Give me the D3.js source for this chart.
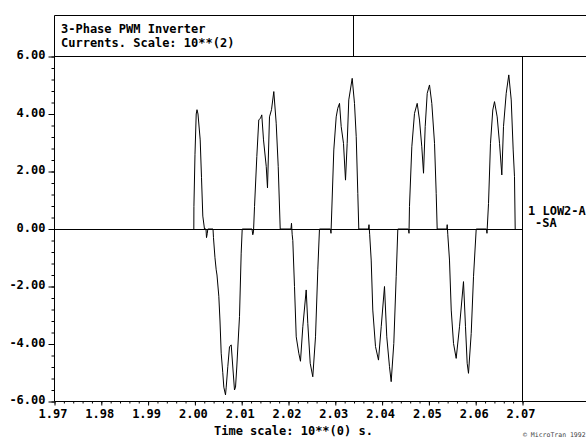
<!DOCTYPE html>
<html>
<head>
<meta charset="utf-8">
<script src="https://cdn.jsdelivr.net/npm/d3@7/dist/d3.min.js"></script>
<style>
  body { margin: 0; background: #fff; }
  svg text { font-family: "DejaVu Sans Mono", monospace; font-size: 12px; font-weight: bold; fill: #000; }
</style>
</head>
<body>
<div id="chart"></div>
<script>
// Phase current (time in s, current in units of 10**2 A)
var time = [
  1.99977, 1.99979, 2.00002, 2.00028, 2.00045, 2.00066, 2.00113, 2.00141, 2.00169, 2.00205,
  2.00237, 2.00248, 2.00265, 2.00276, 2.00387,
  2.00397, 2.00429, 2.00455, 2.00472, 2.00511, 2.00536, 2.00562, 2.00596, 2.00618, 2.00654,
  2.00669, 2.00703, 2.00739, 2.00776, 2.00810, 2.00846, 2.00868, 2.00895, 2.00921, 2.00953,
  2.00989, 2.01011,
  2.01220, 2.01237, 2.01252, 2.01274, 2.01323, 2.01365, 2.01402, 2.01429, 2.01466, 2.01524,
  2.01551, 2.01594, 2.01637, 2.01686, 2.01737, 2.01780, 2.01823,
  2.02053, 2.02064, 2.02079, 2.02092, 2.02128, 2.02165, 2.02220, 2.02256, 2.02306, 2.02378,
  2.02412, 2.02464, 2.02519, 2.02577, 2.02626, 2.02662,
  2.02897, 2.02908, 2.02925, 2.02968, 2.03019, 2.03053, 2.03090, 2.03126, 2.03175, 2.03218,
  2.03254, 2.03288, 2.03361, 2.03410, 2.03447, 2.03481, 2.03502,
  2.03709, 2.03720, 2.03735, 2.03767, 2.03801, 2.03859, 2.03923, 2.03981, 2.04051, 2.04100,
  2.04158, 2.04194, 2.04250, 2.04301, 2.04336,
  2.04564, 2.04575, 2.04585, 2.04635, 2.04692, 2.04750, 2.04799, 2.04848, 2.04885, 2.04921,
  2.04964, 2.05013, 2.05062, 2.05120, 2.05156, 2.05177,
  2.05383, 2.05391, 2.05404, 2.05440, 2.05477, 2.05526, 2.05583, 2.05654, 2.05739, 2.05782,
  2.05818, 2.05846, 2.05904, 2.05953, 2.06011,
  2.06231, 2.06241, 2.06274, 2.06316, 2.06365, 2.06402, 2.06459, 2.06509, 2.06558, 2.06594,
  2.06652, 2.06707, 2.06759, 2.06801, 2.06829, 2.06844
];
var current = [
  0, 0.78, 2.6, 4.0, 4.15, 4.0, 3.1, 1.8, 0.45, 0,
  0, -0.3, -0.15, 0, 0,
  -0.3, -1.0, -1.42, -1.6, -2.34, -3.2, -4.32, -5.0, -5.5, -5.77,
  -5.5, -4.79, -4.1, -4.03, -4.8, -5.6, -5.5, -4.8, -4.0, -3.04,
  -0.84, 0,
  0, -0.2, -0.1, 0.78, 2.52, 3.8, 3.85, 3.97, 3.1, 2.18,
  1.43, 3.9, 4.15, 4.78, 3.68, 2.18, 0,
  0, 0.2, -0.2, -0.4, -2.0, -3.75, -4.32, -4.6, -3.4, -2.12,
  -3.28, -4.67, -5.14, -3.75, -1.42, 0,
  0, -0.15, 0.66, 2.75, 3.9, 4.2, 4.37, 3.56, 2.98, 1.7,
  2.98, 4.49, 5.24, 4.37, 3.21, 1.24, 0,
  0, 0.15, -0.2, -1.08, -2.82, -4.09, -4.56, -3.4, -2.0, -3.75,
  -4.79, -5.31, -3.98, -1.66, 0,
  0, -0.15, 0.78, 2.86, 4.02, 4.37, 3.79, 2.86, 1.94, 3.56,
  4.72, 5.01, 4.37, 2.98, 1.24, 0,
  0, 0.15, -0.2, -1.08, -2.82, -3.98, -4.5, -3.4, -1.83, -3.4,
  -4.67, -5.02, -3.63, -1.66, 0,
  0, -0.15, 0.89, 2.98, 4.14, 4.43, 3.9, 2.98, 1.88, 3.56,
  4.72, 5.36, 4.49, 2.75, 1.82, 0
];

var xTicks = [1.97, 1.98, 1.99, 2.00, 2.01, 2.02, 2.03, 2.04, 2.05, 2.06, 2.07];
var yTicks = [-6, -4, -2, 0, 2, 4, 6];
var titleLines = ["3-Phase PWM Inverter", "Currents. Scale: 10**(2)"];
var seriesLabel = ["1 LOW2-A", "-SA"];
var xTitle = "Time scale: 10**(0) s.";

var W = 586, H = 439;
// plot box (don't call it "top": window.top is read-only)
var pLeft = 54.5, pRight = 522.5, pTop = 56.5, pBottom = 401.5;

var svg = d3.select('#chart').append('svg')
  .attr('width', W)
  .attr('height', H);

var x = d3.scaleLinear().domain([1.97, 2.07]).range([pLeft, pRight]);
var y = d3.scaleLinear().domain([-6, 6]).range([pBottom, pTop]);

// minor ticks first
var xMinor = d3.range(0, 51).map(function(i) { return 1.97 + i * 0.002; });
var yMinor = d3.range(0, 31).map(function(i) { return -6 + i * 0.4; });

var gxm = svg.append('g').attr('transform', 'translate(0,' + pBottom + ')')
  .call(d3.axisBottom(x).tickValues(xMinor).tickSize(2).tickFormat(''));
var gym = svg.append('g').attr('transform', 'translate(' + pLeft + ',0)')
  .call(d3.axisLeft(y).tickValues(yMinor).tickSize(3).tickFormat(''));

var gx = svg.append('g').attr('transform', 'translate(0,' + pBottom + ')')
  .call(d3.axisBottom(x).tickValues(xTicks).tickSize(4).tickPadding(3)
    .tickFormat(function(d) { return d.toFixed(2); }));
var gy = svg.append('g').attr('transform', 'translate(' + pLeft + ',0)')
  .call(d3.axisLeft(y).tickValues(yTicks).tickSize(6).tickPadding(3)
    .tickFormat(function(d) { return d.toFixed(2); }));

[gxm, gym, gx, gy].forEach(function(g) {
  g.attr('font-family', null).attr('font-size', null);
  g.select('.domain').remove();
  g.selectAll('line').attr('stroke', '#000');
  g.selectAll('text').attr('fill', '#000');
});
gx.selectAll('text').attr('dy', '0.75em').attr('dx', -2);
gy.selectAll('text').attr('dy', 2);

// frame
var frame = svg.append('g').attr('stroke', '#000').attr('fill', 'none');
frame.append('line').attr('x1', pLeft).attr('x2', W).attr('y1', 15.5).attr('y2', 15.5);
frame.append('line').attr('x1', pLeft).attr('x2', W).attr('y1', pTop).attr('y2', pTop);
frame.append('line').attr('x1', pLeft).attr('x2', W).attr('y1', pBottom).attr('y2', pBottom);
frame.append('line').attr('x1', pLeft).attr('x2', pLeft).attr('y1', 15.5).attr('y2', pBottom);
frame.append('line').attr('x1', 353.5).attr('x2', 353.5).attr('y1', 15.5).attr('y2', pTop);
frame.append('line').attr('x1', pRight).attr('x2', pRight).attr('y1', pTop).attr('y2', pBottom);
frame.append('line').attr('x1', pLeft).attr('x2', pRight)
  .attr('y1', Math.round(y(0)) + 0.5).attr('y2', Math.round(y(0)) + 0.5);

// title
svg.selectAll('.title').data(titleLines).enter().append('text')
  .attr('class', 'title')
  .attr('x', 61)
  .attr('y', function(d, i) { return 33 + i * 13.5; })
  .text(function(d) { return d; });

// trace
var line = d3.line()
  .x(function(d, i) { return x(time[i]); })
  .y(function(d) { return y(d); });

svg.append('path')
  .datum(current)
  .attr('d', line)
  .attr('fill', 'none')
  .attr('stroke', '#000')
  .attr('stroke-width', 1);

// series label at right
svg.append('text').attr('x', 528).attr('y', 214.5).text(seriesLabel[0]);
svg.append('text').attr('x', 535).attr('y', 227).text(seriesLabel[1]);

// axis title
svg.append('text').attr('x', 214).attr('y', 435).text(xTitle);

// credit
svg.append('text').attr('x', 523).attr('y', 437)
  .style('font-size', '6.5px').style('font-weight', 'normal').style('fill', '#444')
  .text('\u00a9 MicroTran 1992');
</script>
</body>
</html>
